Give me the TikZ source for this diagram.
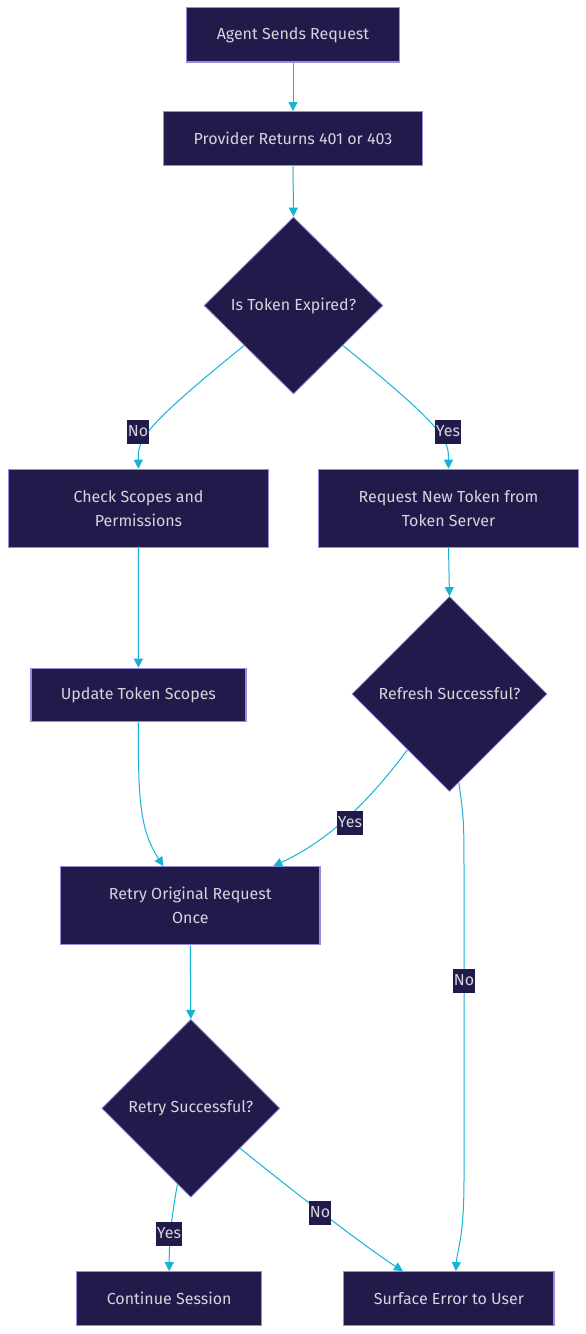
\documentclass[tikz,border=0pt]{standalone}
\usepackage{fontspec}
\setmainfont{Fira Sans}
\usetikzlibrary{shapes.geometric,arrows.meta}
\definecolor{nfill}{HTML}{201B4B}
\definecolor{nline}{HTML}{9D87E0}
\definecolor{ntext}{HTML}{D6D4DC}
\definecolor{eline}{HTML}{17B3D6}
\tikzset{
  base/.style={fill=nfill, text=ntext, font=\fontsize{16}{24}\selectfont, align=center, inner sep=0pt},
  box/.style={base, draw=nline, line width=1.2pt, rectangle},
  dec/.style={base, draw=nline, line width=0.8pt, diamond, aspect=1},
  elabel/.style={fill=nfill, text=ntext, font=\fontsize{16}{24}\selectfont, inner xsep=1pt, inner ysep=0pt, minimum height=24pt, text height=11.5pt, text depth=3.5pt},
  flow/.style={draw=eline, line width=1pt, -{Triangle[length=9pt,width=9pt]}}
}
\begin{document}
\begin{tikzpicture}[x=1pt,y=-1pt]
\useasboundingbox[fill=white] (0,0) rectangle (586,1334);

\node[box, minimum width=212.6pt, minimum height=54.3pt] (a) at (293,34.9) {Agent Sends Request};
\node[box, minimum width=259.4pt, minimum height=54pt] (b) at (293,138.7) {Provider Returns 401 or 403};
\node[dec, minimum width=179pt, minimum height=177pt] (d1) at (293.5,305.5) {Is Token Expired?};
\node[box, minimum width=260.6pt, minimum height=78pt] (cs) at (138.5,508.3) {Check Scopes and\\Permissions};
\node[box, minimum width=260pt, minimum height=78pt] (rq) at (448.5,508.3) {Request New Token from\\Token Server};
\node[box, minimum width=215pt, minimum height=53.4pt] (ut) at (138.4,695) {Update Token Scopes};
\node[dec, minimum width=195pt, minimum height=195pt] (d2) at (449.5,694) {Refresh Successful?};
\node[box, minimum width=259.3pt, minimum height=78pt] (rt) at (190.3,905.7) {Retry Original Request\\Once};
\node[dec, minimum width=178pt, minimum height=178pt] (d3) at (190.8,1108.3) {Retry Successful?};
\node[box, minimum width=185pt, minimum height=54pt] (cont) at (169.2,1298.7) {Continue Session};
\node[box, minimum width=210.3pt, minimum height=54pt] (se) at (448.9,1298.7) {Surface Error to User};

\draw[flow] (a.south) -- (b.north);
\draw[flow] (b.south) -- (d1.north);
\draw[flow] (d1.219) .. controls (140,430) and (138,440) .. (cs.north);
\draw[flow] (d1.-39) .. controls (447,430) and (448.5,440) .. (rq.north);
\draw[flow] (cs.south) -- (ut.north);
\draw[flow] (rq.south) -- (d2.north);
\draw[flow] (ut.south) .. controls (138,800) and (140,830) .. ([xshift=-27pt]rt.north);
\draw[flow] (d2.233) .. controls (370,800) and (330,840) .. ([xshift=83pt]rt.north);
\draw[flow] (d2.-84.5) .. controls (464,820) .. (464,880) -- (464,1180) .. controls (464,1240) and (457,1250) .. ([xshift=7pt]se.north);
\draw[flow] (rt.south) -- (d3.north);
\draw[flow] (d3.-100.2) .. controls (171,1220) and (169.2,1240) .. (cont.north);
\draw[flow] (d3.-39) .. controls (300,1197) and (370,1250) .. ([xshift=-46pt]se.north);

\node[elabel] (l1) at (138,432) {No};
\node[elabel] (l2) at (448,432) {Yes};
\node[elabel] (l3) at (350,823.3) {Yes};
\node[elabel] (l4) at (464,981) {No};
\node[elabel] (l5) at (169,1234) {Yes};
\node[elabel] (l6) at (320,1213) {No};
\end{tikzpicture}
\end{document}
